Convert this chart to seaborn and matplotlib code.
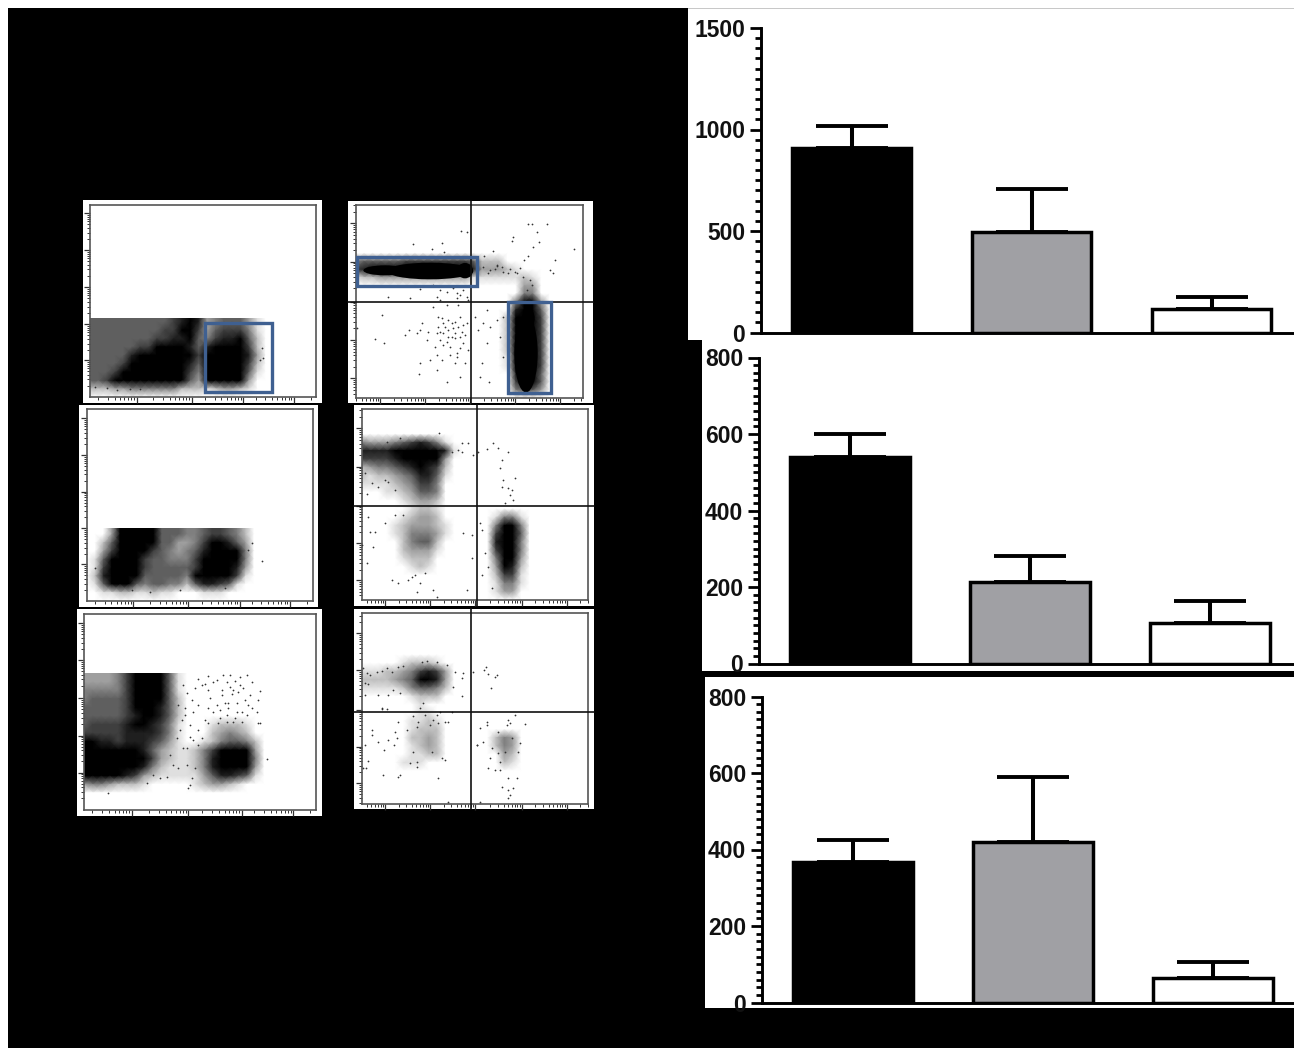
import matplotlib
matplotlib.use("Agg")
import matplotlib.pyplot as plt
import matplotlib.patches as mp
import numpy as np
import seaborn as sns

sns.set_theme(style="white")
plt.rcParams['font.family'] = ['Liberation Sans', 'DejaVu Sans']

W, H = 1294, 1048
GROUPS = ["Group 1", "Group 2", "Group 3"]
BAR_COLORS = ["#000000", "#a0a0a4", "#ffffff"]

TOP_VALUES = [910, 493, 118]
TOP_ERRTOPS = [1017, 708, 175]
MID_VALUES = [540, 214, 107]
MID_ERRTOPS = [600, 282, 163]
LOW_VALUES = [368, 420, 63]
LOW_ERRTOPS = [426, 589, 105]

# flow cytometry: event density per grid cell (0 empty .. 9 saturated)
P1_DENSITY = [""] * 13 + [
    "55555555556787" + "34555310",
    "55555555556787" + "34555310",
    "55555555566886" + "35666410",
    "55555555667785" + "46778520",
    "55555566888875" + "7999862",
    "55555789999986" + "8999973",
    "55556899999975" + "9999962",
    "55568999999964" + "9999951",
    "55689999999853" + "8999830",
    "22233444444222" + "1233210",
    "",
]
P2_DENSITY = [""] * 7 + [
    "455555666666665222",
    "678999999999997333210",
    "1223333333333311111121",
    "0" * 20 + "33",
    "0" * 20 + "44",
    "0" * 19 + "4883",
    "0" * 19 + "7995",
    "0" * 18 + "28996",
    "0" * 18 + "28996",
    "0" * 18 + "28996",
    "0" * 18 + "28996",
    "0" * 18 + "28996",
    "0" * 18 + "18996",
    "0" * 18 + "18996",
    "0" * 19 + "7995",
    "0" * 19 + "6995",
    "0" * 19 + "4553",
    "",
]
P3_DENSITY = [""] * 14 + [
    "00038999955544566542",
    "00038999955544566542",
    "00259999855334688753",
    "00369998654345799984",
    "01599996554446999984",
    "01699996555556999973",
    "02799985555548999961",
    "01599854554425776510",
    "00112211211000111000",
    "",
]
P4_DENSITY = [""] * 4 + [
    "43334567641",
    "777789999971",
    "66667899983",
    "23445678762",
    "21223457751",
    "1111234664",
    "0001123554",
    "0000012332",
    "0000001221",
    "0000012332" + "000000" + "1441",
    "00001233321" + "00000" + "4994",
    "00001244431" + "00000" + "6995",
    "0000024552" + "000000" + "7994",
    "0000023331" + "000000" + "6994",
    "000001222" + "0000000" + "4983",
    "0000001210" + "000000" + "3872",
    "0" * 16 + "2661",
    "0" * 16 + "1441",
    "0" * 16 + "133",
    "",
]
P5_DENSITY = [""] * 7 + [
    "33334689995100",
    "33334689995100",
    "44444689995100",
    "45555689985200",
    "55555688875200",
    "55555678875200",
    "56666788764100" + "0122210",
    "66666777764100" + "0234320",
    "887767776531" + "001245542",
    "999998875321" + "124689983",
    "9999999" + "86321124799994",
    "9999999" + "74211124799983",
    "888887632111113577651",
    "344322210000012332100",
    "",
    "",
    "",
]
P6_DENSITY = [""] * 6 + [
    "00000122210",
    "11122346763",
    "22223458973",
    "11111245542",
    "0000001222",
    "00000001",
    "000000011",
    "0000001121",
    "0000001222",
    "0000002232" + "000000" + "243",
    "0000001232" + "000000" + "243",
    "0000001122" + "0000000" + "32",
    "00000111" + "000000000" + "21",
    "", "", "", "", "",
]

P2_BANDS = [(270, 243, 260, 50, 0), (135, 241, 130, 30, 0), (375, 242, 48, 46, 0), (558, 490, 70, 235, 0), (565, 385, 38, 60, 0)]

P1_X, P1_Y = [140, 110, 180, 575, 580, 570, 210, 75], [600, 595, 598, 475, 505, 510, 597, 590]
P2_X = [220, 305, 277, 313, 362, 380, 519, 515, 565, 577, 622, 590, 597, 580, 702, 645, 630, 640, 552, 565, 460, 432, 470, 145,
        210, 240, 290, 350, 380, 127, 50, 105, 132, 195, 207, 245, 240, 230, 295, 310, 325, 345, 360, 300, 285, 330, 350, 370,
        385, 380, 405, 430, 415, 450, 470, 490, 440, 480, 440, 270, 240, 237, 290, 320, 360, 345, 375, 425, 420, 448, 490, 300,
        320, 355, 280, 360, 260, 310, 335, 355, 315, 340, 325, 300, 345, 370, 320, 350, 290, 265,
        430, 450, 470, 490, 510, 530, 445, 465, 485, 505, 525, 540, 550, 570, 575, 560, 300, 320, 340, 360, 280, 350, 370, 385,
        305, 325, 345, 365, 295, 335, 375, 310, 290, 360, 330, 305]
P2_Y = [162, 158, 178, 185, 122, 127, 140, 152, 103, 103, 101, 126, 157, 172, 176, 210, 240, 248, 210, 197, 183, 197, 225, 320,
        325, 298, 320, 310, 320, 375, 415, 447, 458, 435, 420, 400, 420, 430, 380, 400, 420, 430, 440, 450, 470, 470, 490, 460,
        480, 400, 380, 400, 420, 410, 390, 380, 360, 440, 460, 510, 520, 553, 540, 575, 560, 520, 520, 520, 560, 575, 500, 330,
        345, 345, 350, 380, 450, 430, 400, 410, 410, 415, 440, 425, 445, 405, 455, 500, 495, 425,
        232, 240, 228, 245, 238, 250, 250, 238, 232, 250, 245, 235, 262, 270, 285, 300, 300, 305, 295, 315, 285, 325, 300, 330,
        385, 390, 395, 425, 410, 440, 435, 465, 430, 475, 495, 510]
P3_X, P3_Y = [75, 575, 545, 535, 240, 185, 330, 465], [505, 482, 428, 450, 575, 570, 570, 565]
P4_X = [350, 368, 445, 460, 425, 400, 385, 350, 340, 320, 470, 490, 465, 475, 510, 490, 500, 495, 480, 505, 470, 120, 80, 65, 100,
        60, 130, 150, 70, 90, 120, 150, 175, 190, 215, 240, 265, 275, 225, 210, 365, 405, 410, 380, 355, 380, 420, 430, 410, 440,
        75, 50, 85, 65, 140, 160, 200, 283, 165, 125]
P4_Y = [128, 128, 128, 145, 148, 155, 165, 155, 150, 155, 180, 155, 205, 240, 235, 265, 270, 285, 310, 300, 260, 240, 250, 282, 262,
        220, 245, 270, 350, 395, 370, 345, 345, 540, 575, 520, 570, 590, 550, 525, 570, 370, 390, 405, 400, 475, 460, 500, 525, 565,
        395, 435, 440, 490, 540, 550, 530, 100, 115, 125]
P5_X = [385, 415, 430, 395, 405, 460, 480, 510, 530, 545, 570, 565, 490, 455, 440, 420, 510, 540, 560, 500, 470, 430, 405, 375, 340,
        350, 365, 345, 335, 320, 350, 370, 385, 360, 330, 300, 310, 325, 250, 230, 360, 355, 590, 565, 570, 490, 515, 530, 475, 450,
        395, 415, 350, 365, 375, 340, 270, 290, 115, 415,
        440, 470, 495, 520, 505, 485, 465, 525, 545, 500, 475, 450, 415, 385, 455, 480, 535, 495, 515, 470, 445, 385, 360, 345, 325, 370]
P5_Y = [222, 212, 230, 240, 238, 210, 210, 215, 210, 230, 258, 285, 255, 270, 300, 280, 240, 270, 320, 320, 330, 320, 345, 250, 240,
        265, 285, 310, 345, 400, 430, 405, 420, 360, 375, 450, 480, 490, 510, 535, 540, 550, 463, 355, 355, 352, 350, 330, 295, 315,
        400, 355, 480, 520, 490, 430, 520, 515, 565, 255,
        225, 232, 228, 250, 262, 268, 295, 285, 310, 295, 310, 340, 310, 300, 255, 245, 300, 340, 320, 350, 355, 375, 395, 330, 300, 320]
P6_X = [55, 65, 60, 75, 95, 110, 125, 140, 160, 175, 70, 100, 130, 145, 165, 60, 55, 110, 230, 245, 275, 305, 355, 385, 423, 418, 430,
        455, 450, 437, 350, 325, 350, 330, 110, 125, 235, 225, 205, 220, 240, 255, 280, 300, 265, 275, 285, 310, 320, 215, 160, 185, 150,
        80, 82, 100, 130, 155, 60, 70, 62, 118, 148, 115, 165, 160, 195, 215, 260, 290, 300, 205, 215, 280, 310, 405, 395, 425, 425, 405,
        395, 415, 440, 435, 460, 430, 450, 465, 490, 510, 485, 495, 490, 515, 540, 525, 470, 505, 465, 490, 500, 480, 520, 460, 490, 495]
P6_Y = [190, 205, 235, 210, 200, 197, 190, 200, 185, 182, 238, 270, 270, 255, 265, 270, 488, 310, 170, 168, 172, 180, 205, 200, 185, 195,
        208, 210, 215, 250, 220, 245, 272, 200, 312, 312, 295, 310, 332, 350, 330, 360, 355, 350, 345, 330, 322, 350, 320, 365, 350, 375, 380,
        375, 390, 410, 405, 400, 420, 468, 490, 435, 420, 510, 510, 515, 475, 485, 440, 460, 465, 440, 470, 520, 590, 590, 420, 350, 360, 370,
        420, 410, 430, 460, 445, 490, 495, 470, 345, 330, 360, 355, 555, 520, 358, 415, 545, 550, 495, 520, 400, 440, 440, 380, 580, 570]

GATES_P1 = [(405, 400, 605, 605)]
GATES_P2 = [(50, 200, 412, 287), (503, 337, 633, 610)]

FLOW = [
    dict(o=(70, 190), lim=(60, 738, 622, 44), card=(40, 755, 638, 30), gate=385, dens=P1_DENSITY, ncol=28, x=P1_X, y=P1_Y, boxes=GATES_P1, cross=None, band=[], xm=[200, 365, 520, 672], ym=[70, 180, 292, 403, 510]),
    dict(o=(340, 190), lim=(47, 730, 625, 45), card=(25, 760, 640, 33), gate=None, dens=P2_DENSITY, ncol=28, x=P2_X, y=P2_Y, boxes=GATES_P2, cross=(393, 337), band=P2_BANDS, xm=[120, 255, 390, 525, 660], ym=[100, 215, 335, 450, 565]),
    dict(o=(70, 400), lim=(50, 728, 603, 28), card=(28, 745, 620, 15), gate=385, dens=P3_DENSITY, ncol=28, x=P3_X, y=P3_Y, boxes=[], cross=None, band=[], xm=[190, 355, 510, 660], ym=[55, 165, 275, 385, 493]),
    dict(o=(345, 400), lim=(50, 730, 600, 28), card=(27, 747, 618, 15), gate=None, dens=P4_DENSITY, ncol=28, x=P4_X, y=P4_Y, boxes=[], cross=(395, 317), band=[], xm=[120, 255, 390, 530, 665], ym=[85, 200, 317, 430, 540]),
    dict(o=(70, 605), lim=(42, 737, 615, 26), card=(20, 755, 632, 12), gate=205, dens=P5_DENSITY, ncol=28, x=P5_X, y=P5_Y, boxes=[], cross=None, band=[], xm=[185, 355, 515, 670], ym=[55, 165, 280, 392, 503]),
    dict(o=(345, 605), lim=(50, 730, 597, 25), card=(27, 747, 612, 12), gate=None, dens=P6_DENSITY, ncol=28, x=P6_X, y=P6_Y, boxes=[], cross=(377, 320), band=[], xm=[120, 255, 390, 530, 665], ym=[85, 195, 315, 425, 535]),
]

fig = plt.figure(figsize=(W / 100, H / 100), dpi=100, facecolor="white")


def px_rect(x0, y0, x1, y1, color, z):
    fig.add_artist(mp.Rectangle((x0 / W, 1 - y1 / H), (x1 - x0) / W, (y1 - y0) / H,
                                transform=fig.transFigure, facecolor=color, edgecolor="none", zorder=z))


px_rect(8, 8, W, H, "black", -3)
px_rect(688, 9, W, 340, "white", -2)
px_rect(688, 8, W, 9, "#c8c8c8", -2)
px_rect(702, 340, W, 671, "white", -2)
px_rect(705, 677, W, 1008, "white", -2)


def bar_panel(left, top, bottom, ymax, major, minor, c0, values, errtops):
    ax = fig.add_axes([left / W, 1 - bottom / H, (W - left) / W, (bottom - top) / H])
    ax.patch.set_alpha(0)
    sns.barplot(x=GROUPS, y=values, hue=GROUPS, palette=BAR_COLORS, legend=False, ax=ax,
                width=0.665, edgecolor="black", linewidth=2.5, saturation=1, order=GROUPS)
    pos = np.arange(3)
    up = np.array(errtops) - np.array(values)
    ax.errorbar(pos, values, yerr=[np.zeros(3), up], fmt="none", ecolor="black",
                elinewidth=2.9, capsize=26, capthick=2.8, zorder=1)
    ax.set_xlim((left - c0) / 180, (W - c0) / 180)
    ax.set_ylim(0, ymax)
    ax.set_yticks(np.arange(0, ymax + 1, major))
    ax.set_yticks(np.arange(0, ymax + 1, minor), minor=True)
    ax.set_xticks([])
    ax.set_xlabel("")
    ax.set_ylabel("")
    ax.tick_params(axis="y", which="major", length=8, width=2.0, color="black", pad=3.5, left=True,
                   labelsize=16.5)
    ax.tick_params(axis="y", which="minor", length=4.2, width=2.0, color="black", left=True)
    for lab in ax.get_yticklabels():
        lab.set_fontweight("bold")
        lab.set_color("#111111")
    for s in ("top", "right"):
        ax.spines[s].set_visible(False)
    for s in ("left", "bottom"):
        ax.spines[s].set_linewidth(2.1)
        ax.spines[s].set_color("black")


bar_panel(761, 28, 332.5, 1500, 500, 50, 851.5, TOP_VALUES, TOP_ERRTOPS)
bar_panel(759, 357.5, 663.5, 800, 200, 20, 850, MID_VALUES, MID_ERRTOPS)
bar_panel(762, 696.5, 1002.5, 800, 200, 20, 853, LOW_VALUES, LOW_ERRTOPS)

GATE_BLUE = "#3f6091"
FRAME = "#555555"
DECADE = np.log10(np.arange(2, 10))

for spec in FLOW:
    ox, oy = spec['o']
    xl, xr, yb, yt = spec['lim']
    cl, cr, cb, ct = spec['card']
    px_rect(ox + cl / 3, oy + ct / 3, ox + cr / 3, oy + cb / 3, "white", -1)
    rect = [(ox + xl / 3) / W, 1 - (oy + yb / 3) / H, (xr - xl) / 3 / W, (yb - yt) / 3 / H]

    # density layer
    hm = fig.add_axes(rect)
    ncol = spec['ncol']
    matrix = np.array([[int(c) for c in row.ljust(ncol, "0")] for row in spec['dens']], dtype=float)
    sns.heatmap(matrix, ax=hm, cmap="gray_r", vmin=0, vmax=8.0, cbar=False,
                xticklabels=False, yticklabels=False, shading="gouraud")
    nrow = matrix.shape[0]
    hm.set_xlim(0, ncol - 1)
    hm.set_ylim(nrow - 1, 0)
    if spec['gate']:
        row0 = (spec['gate'] - yt) / (yb - yt) * (nrow - 1)
        hm.collections[0].set_clip_path(mp.Rectangle((0, row0), ncol, nrow, transform=hm.transData))
    hm.set_axis_off()

    # frame, events, gates
    ax = fig.add_axes(rect)
    ax.patch.set_alpha(0)
    for cx, cy, w, h, ang in spec['band']:
        ax.add_patch(mp.Ellipse((cx, cy), w, h, angle=ang, facecolor="black", edgecolor="none", zorder=3))
    sns.scatterplot(x=spec['x'], y=spec['y'], s=1.6, color="#333333", linewidth=0, ax=ax, zorder=3, legend=False)
    ax.set_xlim(xl, xr)
    ax.set_ylim(yb, yt)
    x_span = spec['xm'][1] - spec['xm'][0]
    y_span = spec['ym'][1] - spec['ym'][0]
    ax.set_xticks(spec['xm'])
    ax.set_yticks(spec['ym'])
    xminor = [m - x_span + x_span * d for m in spec['xm'] + [spec['xm'][-1] + x_span] for d in DECADE]
    yminor = [m + y_span - y_span * d for m in [spec['ym'][0] - y_span] + spec['ym'] for d in DECADE]
    ax.set_xticks([v for v in xminor if xl < v < xr], minor=True)
    ax.set_yticks([v for v in yminor if yt < v < yb], minor=True)
    ax.tick_params(which="major", length=4.2, width=0.9, color="#333333", labelbottom=False, labelleft=False, left=True, bottom=True)
    ax.tick_params(which="minor", length=2, width=0.7, color="#333333", left=True, bottom=True)
    for s in ax.spines.values():
        s.set_visible(True)
        s.set_color(FRAME)
        s.set_linewidth(1.2)
    if spec['cross']:
        vx, hy = spec['cross']
        ax.plot([vx, vx], [ct, cb], color="#111111", lw=1.2, clip_on=False, zorder=6)
        ax.plot([cl, cr], [hy, hy], color="#111111", lw=1.2, clip_on=False, zorder=6)
    for x0, y0, x1, y1 in spec['boxes']:
        ax.add_patch(mp.Rectangle((x0, y0), x1 - x0, y1 - y0, fill=False, edgecolor=GATE_BLUE,
                                  linewidth=2.4, clip_on=False, zorder=7))

fig.savefig("out.png", dpi=100, facecolor=fig.get_facecolor())
